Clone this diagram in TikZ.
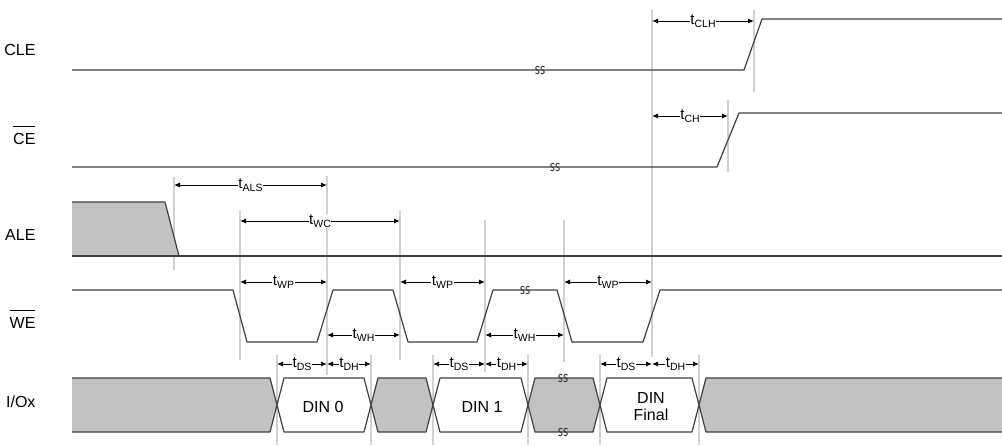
\documentclass[tikz,border=0pt]{standalone}
\usepackage{fontspec}
\setmainfont{Liberation Sans}
\usetikzlibrary{arrows.meta}
\newcommand{\tlab}[1]{t\raisebox{-2.8pt}{\fontsize{10.5}{10.5}\selectfont #1}}
\newcommand{\ovl}[1]{\setbox0=\hbox{#1}%
  \rlap{\rule[\dimexpr\ht0+6pt\relax]{\wd0}{0.8pt}}\copy0}

\begin{document}
\begin{tikzpicture}[x=1pt, y=-1pt,
  every node/.style={font=\fontsize{16}{17}\selectfont},
  sig/.style={draw=black!75, line width=1.2pt, line join=round},
  guide/.style={draw=black!18, line width=1.2pt},
  dim/.style={{Latex[length=6pt,width=5pt]}-{Latex[length=6pt,width=5pt]},
              line width=1pt},
  tl/.style={fill=white, inner sep=0.6pt, font=\fontsize{15}{15}\selectfont},
  sname/.style={anchor=base east},
  brk/.style={line width=0.9pt, black!80}]
  \useasboundingbox (0,0) rectangle (1002,445);

  % guide lines
  \foreach \x/\ya/\yb in {174/177/270, 240/211/360, 277/355/445, 327/176/375,
      371/355/445, 400/211/360, 433/355/445, 485/220/372, 528/355/445,
      564/220/362, 600/355/445, 652/10/357, 699/355/445, 728/100/172,
      754/10/92}
    {\draw[guide] (\x,\ya) coordinate (g\x) -- (\x,\yb);}

  % signal names
  \node[sname] (cle) at (39,55) {CLE};
  \node[sname] (ce) at (39,144) {\ovl{CE}};
  \node[sname] (ale) at (39,240) {ALE};
  \node[sname] (we) at (39,328) {\ovl{WE}};
  \node[sname] (io) at (39,407) {I/Ox};

  % CLE, CE
  \draw[sig] (72,70) -- (744,70) -- (762,19) -- (1002,19);
  \draw[sig] (72,167) -- (717,167) -- (739,113) -- (1002,113);

  % ALE
  \fill[black!24] (72,256) -- (72,202) -- (165,202) -- (179,256) -- cycle;
  \draw[sig] (72,202) -- (165,202) -- (179,256);
  \draw[sig] (72,256) -- (1002,256);

  % WE
  \draw[sig] (72,290) -- (233,290) -- (247,342) -- (317,342) -- (333,290)
    -- (393,290) -- (408,342) -- (477,342) -- (493,290) -- (557,290)
    -- (572,342) -- (643,342) -- (660,290) -- (1002,290);

  % I/Ox
  \fill[black!24] (72,378) -- (270,378) -- (277,405) -- (270,432) -- (72,432)
    -- cycle;
  \draw[sig] (72,378) -- (270,378) -- (277,405) -- (270,432) -- (72,432);
  \foreach \a/\b/\f in {277/371/white, 371/433/black!24, 433/528/white,
      528/600/black!24, 600/699/white}
    {\draw[sig, fill=\f] (\a,405) -- ({\a+7},378) -- ({\b-7},378) -- (\b,405)
       -- ({\b-7},432) -- ({\a+7},432) -- cycle;}
  \fill[black!24] (1002,378) -- (706,378) -- (699,405) -- (706,432)
    -- (1002,432) -- cycle;
  \draw[sig] (1002,378) -- (706,378) -- (699,405) -- (706,432) -- (1002,432);
  \node (din0) at (323,407) {DIN 0};
  \node (din1) at (482,407) {DIN 1};
  \node[align=center] (dinf) at (651,407) {DIN\\Final};

  % break marks
  \foreach \x/\y in {540/70, 555/167, 525/290, 563/378, 563/432}
    \foreach \d in {-2.6,2.6}
      {\draw[brk] ({\x+\d+2},{\y-3}) .. controls ({\x+\d-1},{\y-5.5})
         and ({\x+\d-3.5},{\y-1}) .. ({\x+\d},{\y})
         .. controls ({\x+\d+3.5},{\y+1}) and ({\x+\d+1},{\y+5.5})
         .. ({\x+\d-2},{\y+3});}

  % timing parameters
  \draw[dim] (g652 |- 0,21) -- node[tl] (clh) {\tlab{CLH}} (g754 |- 0,21);
  \draw[dim] (g652 |- 0,116) -- node[tl] (ch) {\tlab{CH}} (g728 |- 0,116);
  \draw[dim] (g174 |- 0,185) -- node[tl] (als) {\tlab{ALS}} (g327 |- 0,185);
  \draw[dim] (g240 |- 0,221) -- node[tl] (wc) {\tlab{WC}} (g400 |- 0,221);
  \draw[dim] (g240 |- 0,282) -- node[tl] (wp1) {\tlab{WP}} (g327 |- 0,282);
  \draw[dim] (g400 |- 0,282) -- node[tl] (wp2) {\tlab{WP}} (g485 |- 0,282);
  \draw[dim] (g564 |- 0,282) -- node[tl] (wp3) {\tlab{WP}} (g652 |- 0,282);
  \draw[dim] (g327 |- 0,335) -- node[tl] (wh1) {\tlab{WH}} (g400 |- 0,335);
  \draw[dim] (g485 |- 0,335) -- node[tl] (wh2) {\tlab{WH}} (g564 |- 0,335);
  \draw[dim] (g277 |- 0,364) -- node[tl] (ds1) {\tlab{DS}} (g327 |- 0,364);
  \draw[dim] (g327 |- 0,364) -- node[tl] (dh1) {\tlab{DH}} (g371 |- 0,364);
  \draw[dim] (g433 |- 0,364) -- node[tl] (ds2) {\tlab{DS}} (g485 |- 0,364);
  \draw[dim] (g485 |- 0,364) -- node[tl] (dh2) {\tlab{DH}} (g528 |- 0,364);
  \draw[dim] (g600 |- 0,364) -- node[tl] (ds3) {\tlab{DS}} (g652 |- 0,364);
  \draw[dim] (g652 |- 0,364) -- node[tl] (dh3) {\tlab{DH}} (g699 |- 0,364);
\end{tikzpicture}
\end{document}
